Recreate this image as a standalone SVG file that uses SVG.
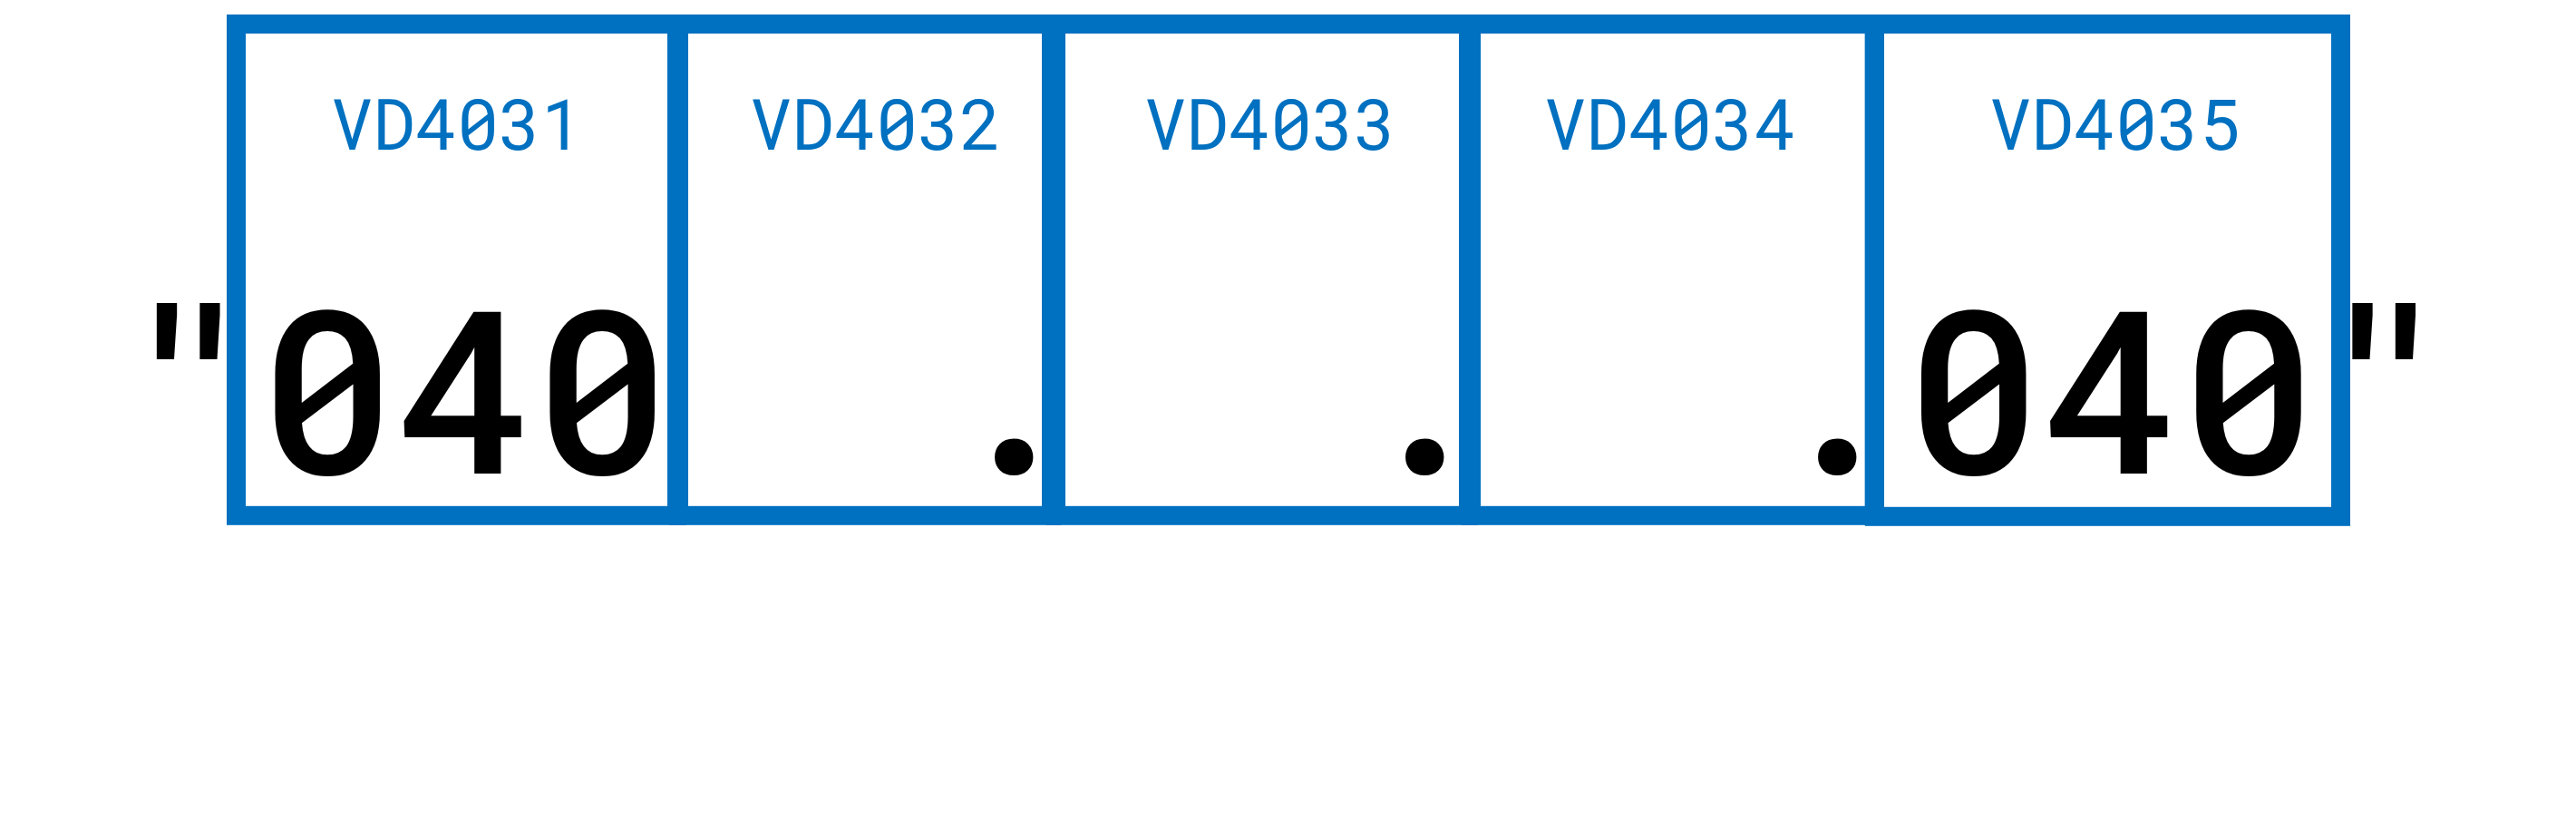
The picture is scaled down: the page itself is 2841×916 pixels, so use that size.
<svg xmlns="http://www.w3.org/2000/svg" width="2841" height="916" viewBox="0 0 2841 916">
  <style>
    .cell { fill: none; stroke: #0070C0; stroke-width: 21; }
    .lbl { font-family: "Roboto Mono", "DejaVu Sans Mono", monospace; font-size: 77px; font-weight: 400; fill: #0070C0; text-anchor: middle; }
    .val { font-family: "Roboto Mono", "DejaVu Sans Mono", monospace; font-size: 250px; font-weight: 500; fill: #000000; text-anchor: middle; }
  </style>
  <rect x="0" y="0" width="2841" height="916" fill="#FFFFFF"/>
  <g id="connectors"/>
  <g id="cell-VD4031">
    <text class="val" x="209.7 360.9 512.4 663.9" y="522">"040</text>
    <rect class="cell" x="260.5" y="26.5" width="486" height="541.8"/>
    <text class="lbl" x="504" y="165">VD4031</text>
  </g>
  <g id="cell-VD4032">
    <text class="val" x="1116.7" y="522">.</text>
    <rect class="cell" x="748.5" y="26.5" width="411" height="541.8"/>
    <text class="lbl" x="966" y="165">VD4032</text>
  </g>
  <g id="cell-VD4033">
    <text class="val" x="1569.7" y="522">.</text>
    <rect class="cell" x="1164.5" y="26.5" width="455" height="541.8"/>
    <text class="lbl" x="1401" y="165">VD4033</text>
  </g>
  <g id="cell-VD4034">
    <text class="val" x="2024.7" y="522">.</text>
    <rect class="cell" x="1622.5" y="26.5" width="444.8" height="541.8"/>
    <text class="lbl" x="1842" y="165">VD4034</text>
  </g>
  <g id="cell-VD4035">
    <text class="val" x="2176.4 2328 2479.7 2631.2" y="522">040"</text>
    <rect class="cell" x="2067.3" y="26.5" width="514.2" height="542.8"/>
    <text class="lbl" x="2333" y="165">VD4035</text>
  </g>
</svg>
